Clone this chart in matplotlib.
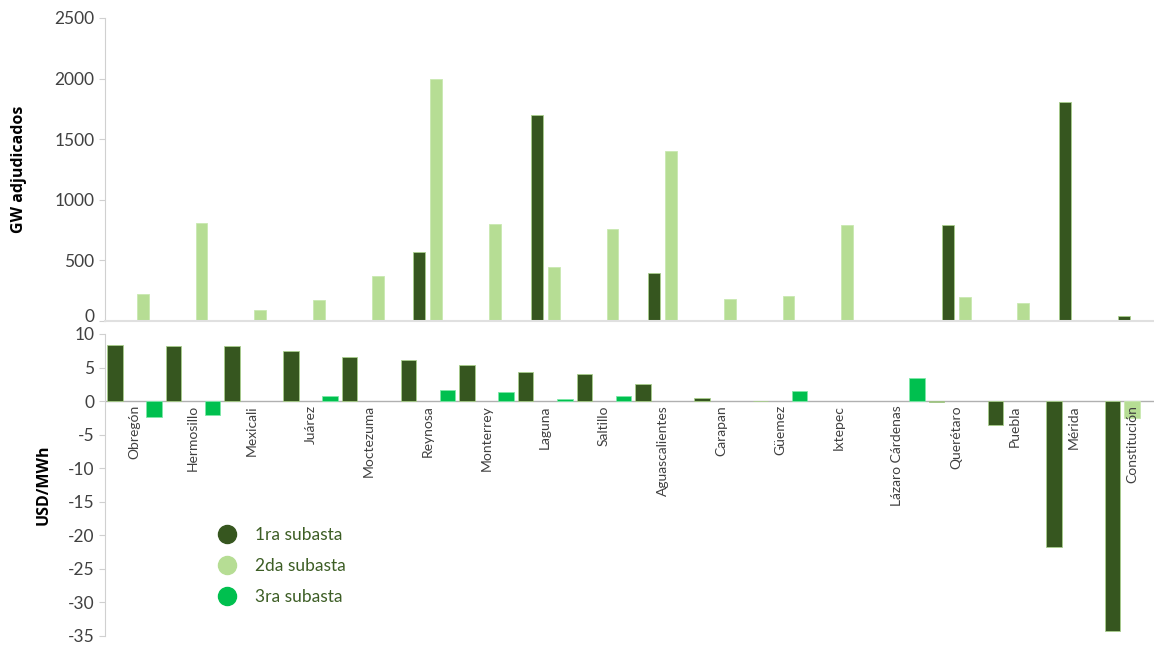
import matplotlib.pyplot as plt
from matplotlib.lines import Line2D
import matplotlib.transforms as mtransforms
import numpy as np

plt.rcParams['font.family'] = ['Lato', 'DejaVu Sans']
plt.rcParams['axes.unicode_minus'] = False

nan = np.nan
nodos = ['Obregón', 'Hermosillo', 'Mexicali', 'Juárez', 'Moctezuma', 'Reynosa',
         'Monterrey', 'Laguna', 'Saltillo', 'Aguascalientes', 'Carapan', 'Güemez',
         'Ixtepec', 'Lázaro Cárdenas', 'Querétaro', 'Puebla', 'Mérida', 'Constitución']
series = ['1ra subasta', '2da subasta', '3ra subasta']
colores = ['#36561f', '#b6dd94', '#00c04f']

# GW adjudicados (1ra y 2da subasta)
gw_1ra = [nan, nan, nan, nan, nan, 570, nan, 1700, nan, 400, nan, nan, nan, nan, 795, nan, 1805, 40]
gw_2da = [225, 810, 90, 173, 372, 2000, 802, 446, 760, 1405, 182, 206, 795, nan, 198, 149, nan, nan]

# USD/MWh
usd_1ra = [8.4, 8.2, 8.2, 7.4, 6.5, 6.2, 5.4, 4.3, 4.0, 2.5, 0.5, 0.05, nan, nan, -0.1, -3.5, -21.8, -34.2]
usd_2da = [nan] * 17 + [-2.5]
usd_3ra = [-2.3, -2.1, nan, 0.7, nan, 1.7, 1.35, 0.3, 0.7, nan, nan, 1.5, nan, 3.4, nan, nan, nan, nan]

x = np.arange(len(nodos))
W, H = 1154, 645
fig = plt.figure(figsize=(W / 100, H / 100), dpi=100)

gris = '#404040'
linea = '#d0d0d0'
xlim = (-0.5, -0.5 + (W - 105) / 58.7)

# panel superior
ax1 = fig.add_axes([105 / W, (H - 321) / H, (W - 105) / W, 303 / H])
ax1.bar(x - 0.145, gw_1ra, 0.2, color=colores[0], edgecolor='#a9cf8c', linewidth=0.6)
ax1.bar(x + 0.145, gw_2da, 0.2, color=colores[1], edgecolor='#c9e9b0', linewidth=0.6)
ax1.set_xlim(xlim)
ax1.set_ylim(0, 2500)
ax1.set_yticks(np.arange(0, 2501, 500))
ax1.set_xticks([])
for s in ['top', 'right']:
    ax1.spines[s].set_visible(False)
ax1.spines['left'].set_color(linea)
ax1.spines['bottom'].set_color('#e0e0e0')
ax1.spines['bottom'].set_linewidth(1.5)
ax1.tick_params(axis='y', colors=linea, labelcolor=gris, labelsize=12.5, length=4)
ax1.set_ylabel('GW adjudicados', fontsize=11.5, fontweight='bold', color='black',
               family=['Open Sans', 'DejaVu Sans'], labelpad=20)
# subir un poco el "0" para que no choque con el "10" de abajo
cero = ax1.get_yticklabels()[0]
cero.set_transform(cero.get_transform() + mtransforms.ScaledTranslation(0, 5 / 100, fig.dpi_scale_trans))

# panel inferior
ax2 = fig.add_axes([105 / W, 9 / H, (W - 105) / W, 302 / H])
ax2.bar(x - 0.333, usd_1ra, 0.265, color=colores[0], edgecolor='#a9cf8c', linewidth=0.6)
ax2.bar(x, usd_2da, 0.265, color=colores[1], edgecolor='#c9e9b0', linewidth=0.6)
ax2.bar(x + 0.333, usd_3ra, 0.265, color=colores[2], edgecolor='#7ee8a8', linewidth=0.6)
ax2.axhline(0, color='#b0b0b0', linewidth=1, zorder=0)
ax2.set_xlim(xlim)
ax2.set_ylim(-35, 10)
ax2.set_yticks(np.arange(-35, 11, 5))
ax2.set_xticks([])
for s in ['top', 'right', 'bottom']:
    ax2.spines[s].set_visible(False)
ax2.spines['left'].set_color(linea)
ax2.tick_params(axis='y', colors=linea, labelcolor=gris, labelsize=12.5, length=4)
ax2.set_ylabel('USD/MWh', fontsize=11.5, fontweight='bold', color='black',
               family=['Open Sans', 'DejaVu Sans'], labelpad=12)
for xi, nombre in zip(x, nodos):
    ax2.text(xi, -0.6, nombre, rotation=90, ha='center', va='top',
             fontsize=10, color=gris)

handles = [Line2D([], [], linestyle='none', marker='o', markersize=13,
                  markerfacecolor=c, markeredgecolor=c) for c in colores]
leg = fig.legend(handles, series, loc='center left', bbox_to_anchor=(201 / W, (H - 566) / H),
                 frameon=False, fontsize=12.5, handletextpad=1.0, labelspacing=0.85,
                 handlelength=1.2)
for t in leg.get_texts():
    t.set_color('#3d5e25')

fig.savefig('out.png', dpi=100)
